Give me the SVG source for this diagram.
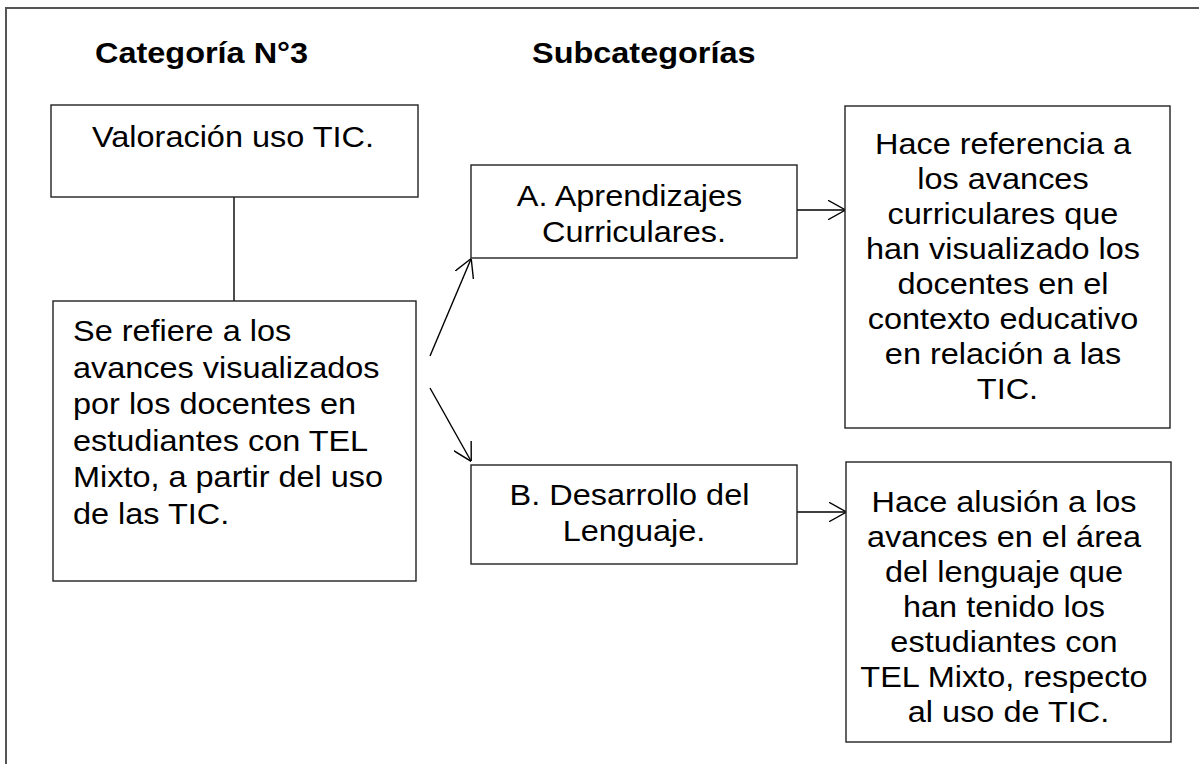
<svg xmlns="http://www.w3.org/2000/svg" width="1199" height="764" viewBox="0 0 1199 764">
<style>
.box{fill:#fff;stroke:#222;stroke-width:1.4}
.t{font-family:"Liberation Sans",Arial,sans-serif;font-size:29.5px;fill:#000}
.b{font-weight:bold}
.c{text-anchor:middle}
.ln{stroke:#000;stroke-width:1.4;fill:none}
</style>
<defs>
<marker id="ah" viewBox="0 0 18 20" markerWidth="18" markerHeight="20" refX="17.5" refY="10" orient="auto" markerUnits="userSpaceOnUse">
<path d="M0,0 L18,10 L0,20" fill="none" stroke="#000" stroke-width="1.4"/>
</marker>
</defs>
<rect x="0" y="0" width="1199" height="764" fill="#fff"/>
<rect x="6" y="8" width="1210" height="780" fill="none" stroke="#555" stroke-width="2"/>
<g id="titulos">
<text class="t b" transform="translate(95,63) scale(1.1,1)">Categoría N°3</text>
<text class="t b" transform="translate(532,63) scale(1.1,1)">Subcategorías</text>
</g>
<g id="conectores">
<line class="ln" x1="234" y1="197" x2="234" y2="301"/>
<line class="ln" x1="430" y1="356" x2="471" y2="259" marker-end="url(#ah)"/>
<line class="ln" x1="430" y1="388" x2="471" y2="461" marker-end="url(#ah)"/>
<line class="ln" x1="797" y1="210" x2="845" y2="210" marker-end="url(#ah)"/>
<line class="ln" x1="797" y1="512" x2="846" y2="512" marker-end="url(#ah)"/>
</g>
<g id="valoracion">
<rect class="box" x="51" y="105" width="367" height="92"/>
<text class="t c" transform="translate(233,147) scale(1.1,1)">Valoración uso TIC.</text>
</g>
<g id="definicion">
<rect class="box" x="53" y="301" width="363" height="280"/>
<text class="t" transform="translate(73,341) scale(1.1,1)">
<tspan x="0" y="0">Se refiere a los</tspan>
<tspan x="0" y="36.6">avances visualizados</tspan>
<tspan x="0" y="73.2">por los docentes en</tspan>
<tspan x="0" y="109.8">estudiantes con TEL</tspan>
<tspan x="0" y="146.4">Mixto, a partir del uso</tspan>
<tspan x="0" y="183">de las TIC.</tspan>
</text>
</g>
<g id="subA">
<rect class="box" x="471" y="165" width="326" height="93"/>
<text class="t c" transform="translate(634,206) scale(1.1,1)">
<tspan x="0" y="0">A. Aprendizajes</tspan>
<tspan x="0" y="36.3">Curriculares.</tspan>
</text>
</g>
<g id="subB">
<rect class="box" x="471" y="465" width="326" height="99"/>
<text class="t c" transform="translate(634,505) scale(1.1,1)">
<tspan x="0" y="0">B. Desarrollo del</tspan>
<tspan x="0" y="36.3">Lenguaje.</tspan>
</text>
</g>
<g id="descA">
<rect class="box" x="845" y="106" width="325" height="322"/>
<text class="t c" transform="translate(1007.5,154) scale(1.1,1)">
<tspan x="0" y="0">Hace referencia a</tspan>
<tspan x="0" y="35">los avances</tspan>
<tspan x="0" y="70">curriculares que</tspan>
<tspan x="0" y="105">han visualizado los</tspan>
<tspan x="0" y="140">docentes en el</tspan>
<tspan x="0" y="175">contexto educativo</tspan>
<tspan x="0" y="210">en relación a las</tspan>
<tspan x="0" y="245">TIC.</tspan>
</text>
</g>
<g id="descB">
<rect class="box" x="846" y="462" width="325" height="280"/>
<text class="t c" transform="translate(1008.5,512) scale(1.1,1)">
<tspan x="0" y="0">Hace alusión a los</tspan>
<tspan x="0" y="35">avances en el área</tspan>
<tspan x="0" y="70">del lenguaje que</tspan>
<tspan x="0" y="105">han tenido los</tspan>
<tspan x="0" y="140">estudiantes con</tspan>
<tspan x="0" y="175">TEL Mixto, respecto</tspan>
<tspan x="0" y="210">al uso de TIC.</tspan>
</text>
</g>
</svg>
